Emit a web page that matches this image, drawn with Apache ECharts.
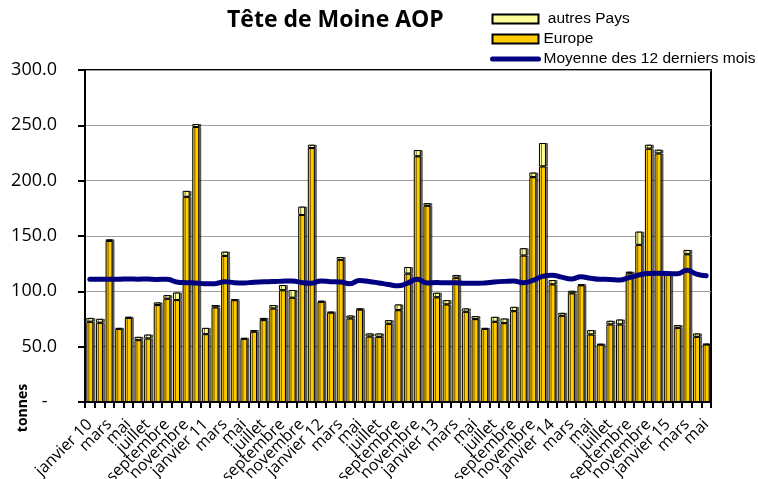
<!DOCTYPE html>
<html>
<head>
<meta charset="utf-8">
<script src="https://cdn.jsdelivr.net/npm/echarts@6/dist/echarts.min.js"></script>
<style>
  html, body { margin: 0; padding: 0; background: #fff; }
  #chart { width: 758px; height: 479px; }
</style>
</head>
<body>
<div id="chart"></div>
<script>
// mois, janvier 2010 -> mai 2015
const months = [
  'janvier 10', 'février', 'mars', 'avril', 'mai', 'juin', 'juillet', 'août', 'septembre', 'octobre', 'novembre', 'décembre',
  'janvier 11', 'février', 'mars', 'avril', 'mai', 'juin', 'juillet', 'août', 'septembre', 'octobre', 'novembre', 'décembre',
  'janvier 12', 'février', 'mars', 'avril', 'mai', 'juin', 'juillet', 'août', 'septembre', 'octobre', 'novembre', 'décembre',
  'janvier 13', 'février', 'mars', 'avril', 'mai', 'juin', 'juillet', 'août', 'septembre', 'octobre', 'novembre', 'décembre',
  'janvier 14', 'février', 'mars', 'avril', 'mai', 'juin', 'juillet', 'août', 'septembre', 'octobre', 'novembre', 'décembre',
  'janvier 15', 'février', 'mars', 'avril', 'mai'
]

// tonnes exportées vers l'Europe
const europe = [
  72.5, 71.6, 145.5, 66, 76, 55.9, 57.4, 87.6, 93.3, 92.1, 185.4, 248.5,
  61.3, 85.5, 132, 92, 57, 63.5, 74, 84.5, 101, 94.2, 169, 229.5,
  90.5, 80.8, 128.4, 75.5, 83.5, 59.2, 58.9, 70.7, 83, 116, 222, 177.3,
  94.6, 88.2, 112.3, 81.5, 74.9, 66, 72.5, 71.3, 82.1, 132.3, 203.2, 212.9,
  106.3, 77.9, 98.2, 105.5, 61, 51.8, 70.1, 70.1, 116.3, 142, 228.9, 224.6,
  116.5, 67, 133.5, 58.9, 52
]

// tonnes vers les autres pays
const autres = [
  3.5, 3.6, 1.5, 1, 1, 3, 3.6, 2.4, 3.3, 6.9, 5.4, 2.7,
  5.7, 2.1, 3.9, 1, 1, 1.5, 2, 3.1, 4.7, 7, 7.6, 3,
  1, 0.7, 2.6, 2.7, 1.1, 2.8, 3.1, 3.3, 5.2, 6, 5.7, 2.4,
  4.2, 3.9, 2.5, 3.1, 2.7, 1, 4.5, 4.2, 3.9, 6.7, 4.2, 21.1,
  3.9, 2.7, 2.3, 0.8, 4, 0.7, 3.3, 4.5, 1.5, 12, 3.6, 3.4,
  0.5, 2.5, 3.9, 3.1, 0.5
]

// moyenne glissante 12 mois
const moyenne = [
  110.9, 110.9, 111, 110.9, 111.2, 111, 111.2, 110.8, 110.9, 108.5, 107.8, 107.6,
  106.8, 106.9, 108.7, 107.8, 107.5, 108.3, 108.6, 108.8, 109.2, 109.4, 107.9, 107.3,
  109.4, 108.7, 108.4, 106.8, 109.8, 108.9, 107.6, 106.2, 105, 107.5, 111, 107.6,
  107.9, 107.8, 107.8, 107.3, 107.2, 107.6, 108.4, 109, 109.4, 107.8, 109.8, 113.5,
  114.6, 112.8, 111.2, 113.1, 111.8, 110.9, 110.8, 110.2, 112.4, 114.8, 116.2, 116.3,
  116.2, 115.8, 119, 115.6, 114
]

const chart = echarts.init(document.getElementById('chart'))

const barStyle = {
  borderColor: '#000',
  borderWidth: 1,
  shadowColor: 'rgba(0,0,0,0.55)',
  shadowOffsetX: 2,
  shadowOffsetY: 0,
  shadowBlur: 0
}

chart.setOption({
  animation: false,
  title: {
    text: 'Tête de Moine AOP',
    left: 222,
    top: 4,
    textStyle: {fontFamily: 'Open Sans', fontWeight: 'bold', fontSize: 23, color: '#000'}
  },
  legend: {
    orient: 'vertical',
    left: 485,
    top: 6,
    itemWidth: 46,
    itemHeight: 9,
    itemGap: 4,
    textStyle: {fontFamily: 'Liberation Sans', fontSize: 15.5, color: '#000'},
    formatter: n => n === 'autres Pays' ? ' autres Pays' : n,
    data: [
      {name: 'autres Pays', icon: 'rect'},
      {name: 'Europe', icon: 'rect'},
      {name: 'Moyenne des 12 derniers mois', itemStyle: {opacity: 0}, lineStyle: {width: 5, cap: 'round'}}
    ]
  },
  graphic: [{
    type: 'text',
    x: 23,
    y: 408,
    rotation: Math.PI / 2,
    style: {
      text: 'tonnes',
      fontFamily: 'Open Sans',
      fontWeight: 'bold',
      fontSize: 14,
      fill: '#000',
      textAlign: 'center',
      textVerticalAlign: 'middle'
    }
  }],
  grid: {
    left: 85, right: 47, top: 70, bottom: 77,
    outerBoundsMode: 'none',
    show: true, borderColor: '#000', borderWidth: 2
  },
  xAxis: {
    type: 'category',
    data: months,
    axisLine: {lineStyle: {color: '#000', width: 2}},
    axisTick: {show: true, interval: 0, length: 6, lineStyle: {color: '#000', width: 2}},
    axisLabel: {
      interval: 0,
      formatter: (v, i) => i % 2 === 0 ? v : '',
      rotate: 45,
      margin: 20,
      hideOverlap: false,
      fontFamily: 'Open Sans',
      fontSize: 16,
      color: '#000'
    }
  },
  yAxis: {
    type: 'value',
    min: 0,
    max: 300,
    interval: 50,
    axisLine: {show: true, lineStyle: {color: '#000', width: 2}},
    axisTick: {show: true, length: 7, lineStyle: {color: '#000', width: 2}},
    splitLine: {lineStyle: {color: '#a0a0a0', width: 1}},
    axisLabel: {
      margin: 28,
      fontFamily: 'Open Sans',
      fontSize: 18,
      color: '#000',
      formatter: v => v === 0 ? '-  ' : v.toFixed(1)
    }
  },
  series: [
    {
      name: 'Europe',
      type: 'bar',
      stack: 'total',
      barWidth: 7,
      itemStyle: Object.assign({color: '#ffcc00'}, barStyle),
      data: europe
    },
    {
      name: 'autres Pays',
      type: 'bar',
      stack: 'total',
      barWidth: 7,
      itemStyle: Object.assign({color: '#ffff99'}, barStyle),
      data: autres
    },
    {
      name: 'Moyenne des 12 derniers mois',
      type: 'line',
      symbol: 'none',
      smooth: true,
      z: 5,
      lineStyle: {color: '#000080', width: 5, cap: 'round'},
      itemStyle: {color: '#000080'},
      data: moyenne
    }
  ]
})
</script>
</body>
</html>
